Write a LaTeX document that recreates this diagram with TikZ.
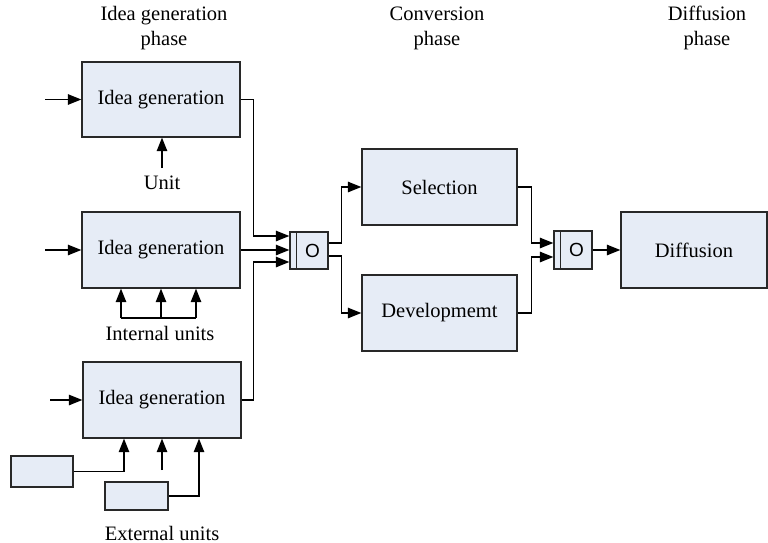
\documentclass[tikz,border=0pt]{standalone}
\usepackage{fontspec}
\setmainfont{Liberation Serif}
\newfontfamily\serifT{Liberation Serif}
\newfontfamily\sansO{Liberation Sans}
\usetikzlibrary{arrows.meta}
\definecolor{boxfill}{RGB}{230,236,246}
\definecolor{edgec}{RGB}{40,40,40}
\begin{document}
\begin{tikzpicture}[x=1pt,y=-1pt,
  box/.style={draw=edgec, fill=boxfill, line width=1.3pt, inner sep=0pt, font=\serifT\fontsize{20.5}{25}\selectfont},
  conn/.style={line width=1.2pt, draw=black},
  arr/.style={conn, -{Triangle[length=13.5pt,width=10.5pt]}},
  lbl/.style={font=\serifT\fontsize{20.5}{25}\selectfont, align=center, inner sep=0pt},
  obox/.style={box, minimum width=38pt, minimum height=37pt},
  otext/.style={font=\sansO\fontsize{19}{19}\selectfont, inner sep=0pt}
]
\useasboundingbox (0,0) rectangle (768,543);

% headers
\node[lbl] (h1) at (164,28) {Idea generation\\phase};
\node[lbl] (h2) at (437,28) {Conversion\\phase};
\node[lbl] (h3) at (707,28) {Diffusion\\phase};

% idea generation boxes
\node[box, minimum width=158pt, minimum height=75pt] (ig1) at (161,99.5) {Idea generation};
\node[box, minimum width=158pt, minimum height=76pt] (ig2) at (161,250) {Idea generation};
\node[box, minimum width=158pt, minimum height=76pt] (ig3) at (162,400) {Idea generation};

% external unit boxes
\node[box, minimum width=62pt, minimum height=31pt] (ext1) at (42,471.5) {};
\node[box, minimum width=63pt, minimum height=28pt] (ext2) at (136.5,496) {};

% O connectors
\node[obox] (o1) at (309,250.5) {};
\node[obox, minimum height=38pt] (o2) at (573,250) {};
\draw[draw=edgec, line width=1.3pt] ([xshift=7pt]o1.north west) -- ([xshift=7pt]o1.south west);
\draw[draw=edgec, line width=1.3pt] ([xshift=7pt]o2.north west) -- ([xshift=7pt]o2.south west);
\node[otext] (o1t) at ([xshift=3.5pt]o1.center) {O};
\node[otext] (o2t) at ([xshift=3.5pt]o2.center) {O};

% conversion and diffusion boxes
\node[box, minimum width=155pt, minimum height=76pt] (sel) at (439.5,187) {Selection};
\node[box, minimum width=155pt, minimum height=76pt] (dev) at (439.5,313) {Developmemt};
\node[box, minimum width=146pt, minimum height=76pt] (diff) at (694,250) {Diffusion};

% labels
\node[lbl] (unit) at (162,183) {Unit};
\node[lbl] (intu) at (160,333) {Internal units};
\node[lbl] (extu) at (162,533) {External units};

% inputs
\coordinate (in1) at (45,99.5);
\coordinate (in2) at (45,250);
\coordinate (in3) at (50,400);
\draw[arr] (in1) -- (ig1.west);
\draw[arr] (in2) -- (ig2.west);
\draw[arr] (in3) -- (ig3.west);

% unit arrow
\coordinate (u1) at (162,168);
\draw[arr] (u1) -- (u1 |- ig1.south);

% internal units
\coordinate (ia) at (121,318);
\coordinate (ib) at (161,318);
\coordinate (ic) at (196,318);
\draw[conn] (ia) -- (ic);
\draw[arr] (ia) -- (ia |- ig2.south);
\draw[arr] (ib) -- (ib |- ig2.south);
\draw[arr] (ic) -- (ic |- ig2.south);

% external units
\coordinate (em) at (162,470);
\draw[arr] (ext1.east) -| ([xshift=-38pt]ig3.south);
\draw[arr] (em) -- (ig3.south);
\draw[arr] (ext2.east) -| ([xshift=37pt]ig3.south);

% into O1
\draw[arr] (ig1.east) -- ++(13,0) |- ([yshift=14.5pt]o1.west);
\draw[arr] (ig2.east) -- (ig2.east -| o1.west);
\draw[arr] (ig3.east) -- ++(12,0) |- ([yshift=-11.5pt]o1.west);

% out of O1
\draw[arr] ([yshift=7.5pt]o1.east) -- ++(13,0) |- (sel.west);
\draw[arr] ([yshift=-5.5pt]o1.east) -- ++(13,0) |- (dev.west);

% into O2
\draw[arr] (sel.east) -- ++(14,0) |- ([yshift=7pt]o2.west);
\draw[arr] (dev.east) -- ++(14,0) |- ([yshift=-7pt]o2.west);

% out of O2
\draw[arr] (o2.east) -- (diff.west);
\end{tikzpicture}
\end{document}
